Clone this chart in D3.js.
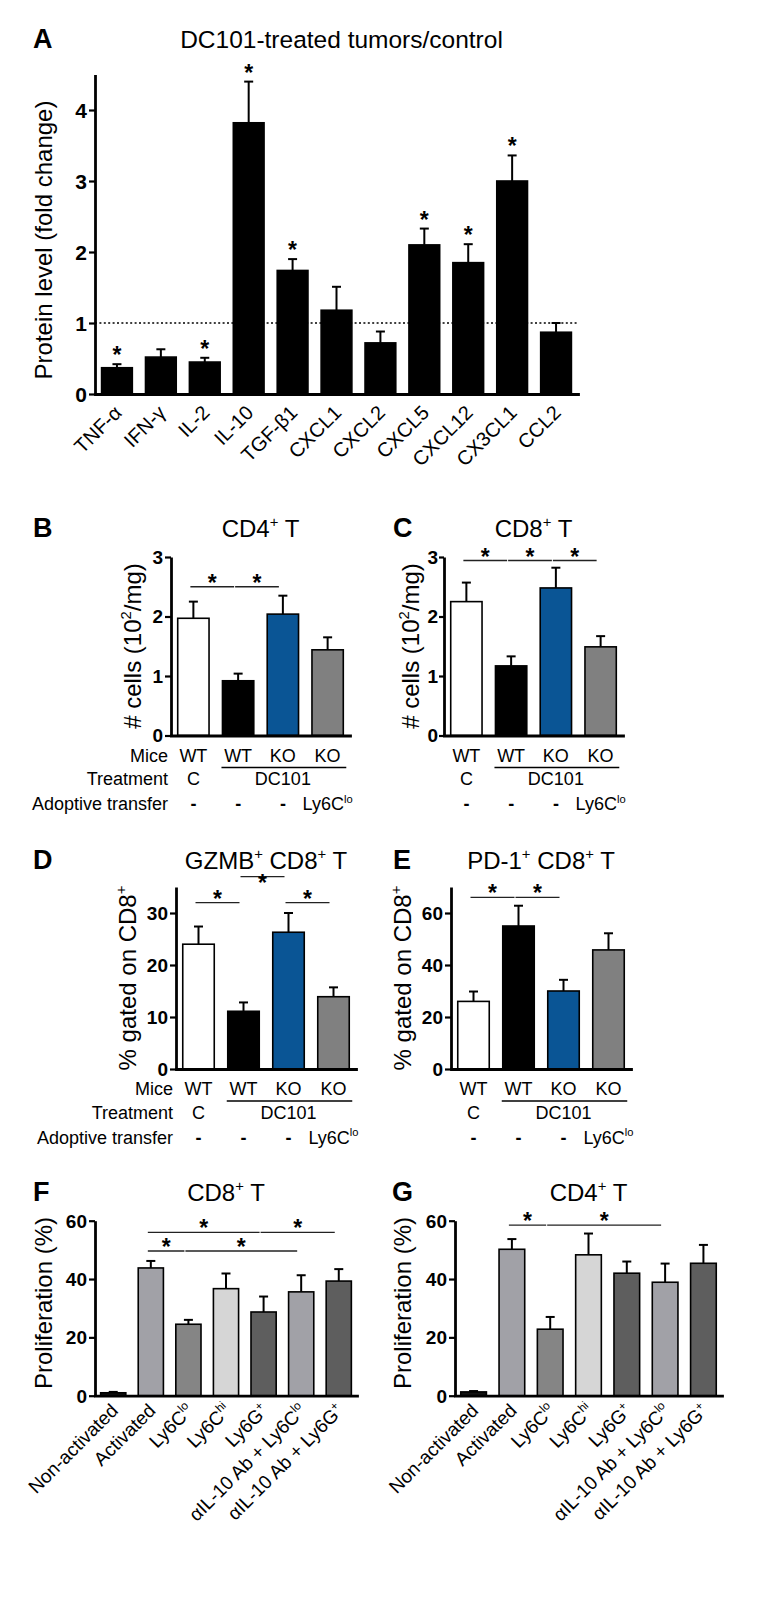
<!DOCTYPE html>
<html><head><meta charset="utf-8">
<script src="https://cdn.jsdelivr.net/npm/d3@7"></script>
<style>
body{margin:0;background:#fff}
svg{display:block}
text{font-family:"Liberation Sans",Arial,Helvetica,sans-serif;fill:#000}
</style>
</head><body>
<svg id="fig" width="760" height="1616"></svg>
<script>
// ---------------- DATA ----------------
// Panel A
const aCategories = ["TNF-α","IFN-γ","IL-2","IL-10","TGF-β1","CXCL1","CXCL2","CXCL5","CXCL12","CX3CL1","CCL2"];
const aMeans  = [0.37,0.52,0.45,3.82,1.74,1.18,0.72,2.10,1.85,3.00,0.87];
const aUpper  = [0.42,0.63,0.51,4.40,1.90,1.51,0.88,2.33,2.11,3.36,1.00];
const aStars  = [true,false,true,true,true,false,false,true,true,true,false];
const aTicks  = [0,1,2,3,4];
const aRefLine = 1;

// Panels B-E share the same groups
const groupMice      = ["WT","WT","KO","KO"];
const groupTreatment = ["C","DC101","DC101","DC101"];
const groupTransfer  = ["-","-","-","Ly6C^{lo}"];

const bMeans = [1.97,0.92,2.04,1.44];
const bUpper = [2.25,1.04,2.35,1.65];
const bSig   = [[0,1,2.5],[1,2,2.5]];
const bcTicks = [0,1,2,3];

const cMeans = [2.25,1.17,2.48,1.49];
const cUpper = [2.57,1.33,2.82,1.67];
const cSig   = [[0,1,2.94],[1,2,2.94],[2,3,2.94]];

const dMeans = [24.0,11.1,26.3,13.9];
const dUpper = [27.4,12.8,30.0,15.7];
const dSig   = [[0,1,32],[1,2,37],[2,3,32]];
const dTicks = [0,10,20,30];

const eMeans = [26.0,55.0,30.0,45.8];
const eUpper = [29.8,62.8,34.3,52.2];
const eSig   = [[0,1,66],[1,2,66]];
const eTicks = [0,20,40,60];

// Panels F-G
const fgCategories = ["Non-activated","Activated","Ly6C^{lo}","Ly6C^{hi}","Ly6G^{+}","αIL-10 Ab + Ly6C^{lo}","αIL-10 Ab + Ly6G^{+}"];
const fMeans = [1.0,43.8,24.5,36.7,28.7,35.6,39.3];
const fUpper = [1.3,46.2,26.0,41.9,34.0,41.3,43.4];
const fSig   = [[1,4,56],[4,6,56],[1,2,49.6],[2,5,49.6]];
const gMeans = [1.3,50.2,22.8,48.3,42.0,38.9,45.4];
const gUpper = [1.6,53.7,27.0,55.6,46.0,45.3,51.7];
const gSig   = [[1,2,58.5],[2,5,58.5]];
const fgTicks = [0,20,40,60];

// ---------------- STYLE ----------------
const FONT = '"Liberation Sans",Arial,Helvetica,sans-serif';
const groupColors = ["#ffffff","#000000","#0a5595","#808080"];
const fgColors = ["#111111","#a1a1a7","#858585","#d6d6d6","#5e5e5e","#a1a1a7","#5e5e5e"];

const svg = d3.select("#fig");

function rich(sel, str, fs) {
  const parts = str.split(/\^\{([^}]*)\}/);
  let shift = 0;
  parts.forEach((p, i) => {
    if (!p) return;
    const t = sel.append("tspan").text(p);
    if (i % 2 === 1) {
      t.attr("font-size", fs * 0.62).attr("dy", -fs * 0.4);
      shift += fs * 0.4;
    } else if (shift) {
      t.attr("dy", shift); shift = 0;
    }
  });
  return sel;
}

function panel(cfg) {
  const g = svg.append("g");
  const n = cfg.means.length;
  const x = d3.scaleBand().domain(d3.range(n)).range([cfg.x0, cfg.x1])
    .paddingInner(cfg.padIn).paddingOuter(0.15);
  const y = d3.scaleLinear().domain([0, cfg.max]).range([cfg.yBase, cfg.yTop]);
  const bw = x.bandwidth();
  const cx = i => x(i) + bw / 2;
  const titleFs = cfg.titleFs || 24;

  // letter
  g.append("text").attr("x", cfg.letterX).attr("y", cfg.titleY)
    .attr("font-size", 27).attr("font-weight", "bold").text(cfg.letter);
  // title
  rich(g.append("text").attr("x", (cfg.x0 + cfg.x1) / 2 + (cfg.titleDx || 0)).attr("y", cfg.titleY)
    .attr("text-anchor", "middle").attr("font-size", titleFs), cfg.title, titleFs);
  // y label
  rich(g.append("text")
    .attr("transform", `translate(${cfg.labelX},${cfg.labelY}) rotate(-90)`)
    .attr("text-anchor", "middle").attr("font-size", 24), cfg.yLabel, 24);

  // reference line
  if (cfg.refLine != null) {
    g.append("line").attr("x1", cfg.x0).attr("x2", cfg.x1)
      .attr("y1", y(cfg.refLine)).attr("y2", y(cfg.refLine))
      .attr("stroke", "#000").attr("stroke-width", 1.7).attr("stroke-dasharray", "2,2.4");
  }

  // error bars
  const eb = g.append("g").attr("stroke", "#000").attr("stroke-width", 2);
  eb.selectAll("line.v").data(cfg.upper).join("line").attr("class", "v")
    .attr("x1", (d, i) => cx(i)).attr("x2", (d, i) => cx(i))
    .attr("y1", (d, i) => y(cfg.means[i])).attr("y2", d => y(d));
  eb.selectAll("line.c").data(cfg.upper).join("line").attr("class", "c")
    .attr("x1", (d, i) => cx(i) - 4.5).attr("x2", (d, i) => cx(i) + 4.5)
    .attr("y1", d => y(d)).attr("y2", d => y(d));

  // bars
  g.append("g").selectAll("rect").data(cfg.means).join("rect")
    .attr("x", (d, i) => x(i)).attr("width", bw)
    .attr("y", d => y(d)).attr("height", d => cfg.yBase - y(d))
    .attr("fill", (d, i) => cfg.colors[i])
    .attr("stroke", "#000").attr("stroke-width", 1.6);

  // axes
  const ya = g.append("g").attr("transform", `translate(${cfg.x0},0)`)
    .call(d3.axisLeft(y).tickValues(cfg.ticks).tickSize(cfg.tickLen || 6).tickSizeOuter(0)
      .tickPadding(cfg.tickPad != null ? cfg.tickPad : 2).tickFormat(d3.format("d")));
  ya.attr("font-size", cfg.tickFs || 19).attr("font-family", FONT).attr("font-weight", "bold");
  ya.select(".domain").attr("stroke-width", 2.8);
  ya.selectAll(".tick line").attr("stroke-width", 2.2);
  ya.selectAll(".tick text").attr("dy", "0.34em");

  const xa = g.append("g").attr("transform", `translate(0,${cfg.yBase})`)
    .call(d3.axisBottom(x).tickSize(0).tickSizeOuter(0).tickFormat(""));
  xa.select(".domain").attr("stroke-width", 2.8).attr("stroke-linecap", "square");

  // stars above bars
  if (cfg.stars) {
    cfg.stars.forEach((s, i) => {
      if (!s) return;
      g.append("text").attr("x", cx(i)).attr("y", y(cfg.upper[i]) - 1)
        .attr("text-anchor", "middle").attr("font-size", 23).attr("font-weight", "bold").text("*");
    });
  }

  // significance brackets
  if (cfg.sig) {
    cfg.sig.forEach(([a, b, v]) => {
      const x1 = cx(a) - 3, x2 = cx(b) - 4, yy = y(v);
      g.append("line").attr("x1", x1).attr("x2", x2).attr("y1", yy).attr("y2", yy)
        .attr("stroke", "#222").attr("stroke-width", 1.4);
      const starCentre = Math.max(yy - 8.6, cfg.titleY + 9);
      g.append("text").attr("x", (x1 + x2) / 2).attr("y", starCentre + 12.6)
        .attr("text-anchor", "middle").attr("font-size", 23).attr("font-weight", "bold").text("*");
    });
  }

  // rotated category labels
  if (cfg.categories) {
    cfg.categories.forEach((c, i) => {
      rich(g.append("text")
        .attr("transform", `translate(${cx(i) + 6},${cfg.yBase + cfg.labDy}) rotate(-45)`)
        .attr("text-anchor", "end").attr("font-size", cfg.catFs), c, cfg.catFs);
    });
  }

  // group table (mice / treatment / transfer)
  if (cfg.table) {
    const fs = 18;
    const rows = [
      {name: "Mice", vals: groupMice, dy: 26},
      {name: "Treatment", vals: groupTreatment, dy: 49.5, spans: true},
      {name: "Adoptive transfer", vals: groupTransfer, dy: 74.5}
    ];
    rows.forEach(r => {
      if (cfg.headers) {
        g.append("text").attr("x", cfg.x0 - 3).attr("y", cfg.yBase + r.dy)
          .attr("text-anchor", "end").attr("font-size", fs).text(r.name);
      }
      if (r.spans) {
        let s = 0;
        for (let i = 1; i <= r.vals.length; i++) {
          if (i === r.vals.length || r.vals[i] !== r.vals[s]) {
            const mid = (cx(s) + cx(i - 1)) / 2;
            g.append("text").attr("x", mid).attr("y", cfg.yBase + r.dy)
              .attr("text-anchor", "middle").attr("font-size", fs).text(r.vals[s]);
            if (i - 1 > s) {
              g.append("line").attr("x1", x(s) - 1).attr("x2", x(i - 1) + bw + 3)
                .attr("y1", cfg.yBase + 32).attr("y2", cfg.yBase + 32)
                .attr("stroke", "#000").attr("stroke-width", 1.5);
            }
            s = i;
          }
        }
      } else {
        r.vals.forEach((v, i) => {
          const t = g.append("text").attr("x", cx(i)).attr("y", cfg.yBase + r.dy)
            .attr("text-anchor", "middle").attr("font-size", fs);
          if (v === "-") t.attr("font-weight", "bold");
          rich(t, v, fs);
        });
      }
    });
  }
}

// ---------------- PANELS ----------------
panel({letter: "A", letterX: 33, title: "DC101-treated tumors/control", titleY: 48, titleDx: 5, titleFs: 24.5,
  yLabel: "Protein level (fold change)", labelX: 52, labelY: 240,
  x0: 95, x1: 578, yBase: 394, yTop: 74.5, max: 4.5, ticks: aTicks, padIn: 0.3, tickFs: 21,
  means: aMeans, upper: aUpper, colors: aMeans.map(() => "#000"), stars: aStars, refLine: aRefLine,
  categories: aCategories, catFs: 20, labDy: 20});

panel({letter: "B", letterX: 33, title: "CD4^{+} T", titleY: 537,
  yLabel: "# cells (10^{2}/mg)", labelX: 141, labelY: 646,
  x0: 171, x1: 350, yBase: 735.5, yTop: 557, max: 3, ticks: bcTicks, padIn: 0.3,
  means: bMeans, upper: bUpper, colors: groupColors, sig: bSig, table: true, headers: true});

panel({letter: "C", letterX: 393, title: "CD8^{+} T", titleY: 537,
  yLabel: "# cells (10^{2}/mg)", labelX: 419, labelY: 646,
  x0: 444, x1: 623, yBase: 735.5, yTop: 557, max: 3, ticks: bcTicks, padIn: 0.3, tickLen: 5, tickPad: 1,
  means: cMeans, upper: cUpper, colors: groupColors, sig: cSig, table: true, headers: false});

panel({letter: "D", letterX: 33, title: "GZMB^{+} CD8^{+} T", titleY: 869,
  yLabel: "% gated on CD8^{+}", labelX: 136, labelY: 978,
  x0: 176, x1: 356, yBase: 1069, yTop: 887, max: 35, ticks: dTicks, padIn: 0.3,
  means: dMeans, upper: dUpper, colors: groupColors, sig: dSig, table: true, headers: true});

panel({letter: "E", letterX: 393, title: "PD-1^{+} CD8^{+} T", titleY: 869,
  yLabel: "% gated on CD8^{+}", labelX: 411, labelY: 978,
  x0: 451, x1: 631, yBase: 1069, yTop: 887, max: 70, ticks: eTicks, padIn: 0.3,
  means: eMeans, upper: eUpper, colors: groupColors, sig: eSig, table: true, headers: false});

panel({letter: "F", letterX: 33, title: "CD8^{+} T", titleY: 1201,
  yLabel: "Proliferation (%)", labelX: 52, labelY: 1303,
  x0: 95, x1: 357, yBase: 1395.7, yTop: 1220.7, max: 60, ticks: fgTicks, padIn: 0.33,
  means: fMeans, upper: fUpper, colors: fgColors, sig: fSig,
  categories: fgCategories, catFs: 19, labDy: 16});

panel({letter: "G", letterX: 392, title: "CD4^{+} T", titleY: 1201,
  yLabel: "Proliferation (%)", labelX: 411, labelY: 1303,
  x0: 455, x1: 722, yBase: 1395.7, yTop: 1220.7, max: 60, ticks: fgTicks, padIn: 0.33,
  means: gMeans, upper: gUpper, colors: fgColors, sig: gSig,
  categories: fgCategories, catFs: 19, labDy: 16});
</script>
</body></html>
